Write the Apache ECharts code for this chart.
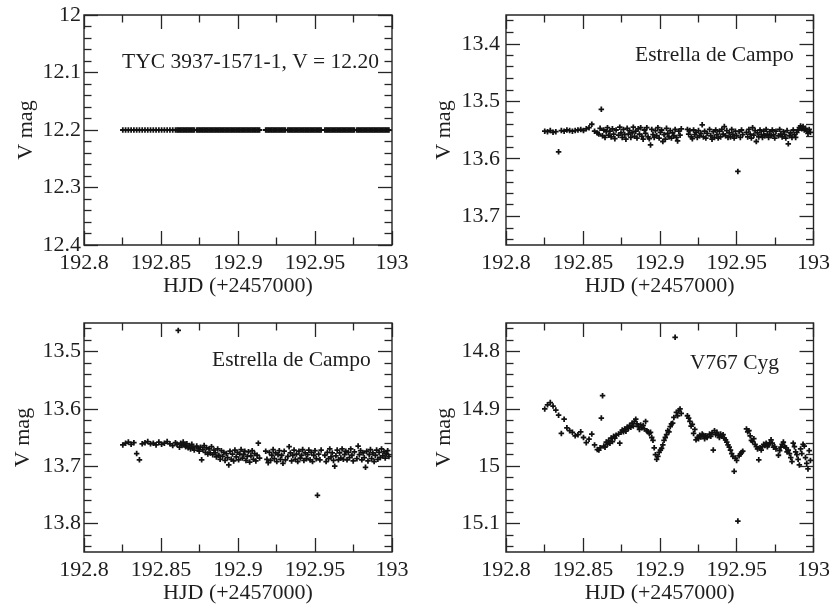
<!DOCTYPE html>
<html><head><meta charset="utf-8">
<script src="https://cdn.jsdelivr.net/npm/echarts@6/dist/echarts.min.js"></script>
<style>html,body{margin:0;padding:0;background:#fff}#c{width:833px;height:608px}</style>
</head><body><div id="c"></div>
<script>
// Observation times, HJD - 2457000 (shared by all four light curves)
const hjd = [
192.8252,192.8270,192.8288,192.8306,192.8324,192.8342,192.8360,192.8378,192.8396,192.8414,
192.8432,192.8450,192.8468,192.8486,192.8504,192.8522,192.8540,192.8558,192.8576,192.8594,
192.8604,192.8612,192.8620,192.8628,192.8636,192.8644,192.8652,192.8660,192.8668,192.8676,
192.8684,192.8692,192.8700,192.8708,192.8716,192.8732,192.8740,192.8748,192.8756,192.8764,
192.8772,192.8780,192.8788,192.8796,192.8804,192.8812,192.8820,192.8828,192.8836,192.8844,
192.8852,192.8860,192.8868,192.8876,192.8884,192.8892,192.8900,192.8908,192.8916,192.8924,
192.8932,192.8940,192.8948,192.8956,192.8964,192.8972,192.8980,192.8988,192.8996,192.9004,
192.9012,192.9020,192.9028,192.9036,192.9044,192.9052,192.9060,192.9068,192.9076,192.9084,
192.9092,192.9100,192.9108,192.9116,192.9124,192.9132,192.9140,192.9180,192.9188,192.9196,
192.9204,192.9212,192.9220,192.9228,192.9236,192.9244,192.9252,192.9260,192.9268,192.9276,
192.9284,192.9292,192.9300,192.9308,192.9324,192.9332,192.9340,192.9348,192.9356,192.9364,
192.9372,192.9380,192.9388,192.9396,192.9404,192.9412,192.9420,192.9428,192.9436,192.9444,
192.9452,192.9460,192.9468,192.9476,192.9484,192.9492,192.9500,192.9508,192.9516,192.9524,
192.9532,192.9540,192.9564,192.9572,192.9580,192.9588,192.9596,192.9604,192.9612,192.9620,
192.9628,192.9636,192.9644,192.9652,192.9660,192.9668,192.9676,192.9684,192.9692,192.9700,
192.9708,192.9716,192.9724,192.9732,192.9740,192.9748,192.9756,192.9772,192.9780,192.9788,
192.9796,192.9804,192.9812,192.9820,192.9828,192.9836,192.9844,192.9852,192.9860,192.9868,
192.9876,192.9884,192.9892,192.9900,192.9908,192.9916,192.9924,192.9932,192.9940,192.9948,
192.9956,192.9964,192.9972,192.9980
];
// TYC 3937-1571-1 (comparison star, V = 12.20)
const tycMag = [
12.2,12.2,12.2,12.2,12.2,12.2,12.2,12.2,12.2,12.2,
12.2,12.2,12.2,12.2,12.2,12.2,12.2,12.2,12.2,12.2,
12.2,12.2,12.2,12.2,12.2,12.2,12.2,12.2,12.2,12.2,
12.2,12.2,12.2,12.2,12.2,12.2,12.2,12.2,12.2,12.2,
12.2,12.2,12.2,12.2,12.2,12.2,12.2,12.2,12.2,12.2,
12.2,12.2,12.2,12.2,12.2,12.2,12.2,12.2,12.2,12.2,
12.2,12.2,12.2,12.2,12.2,12.2,12.2,12.2,12.2,12.2,
12.2,12.2,12.2,12.2,12.2,12.2,12.2,12.2,12.2,12.2,
12.2,12.2,12.2,12.2,12.2,12.2,12.2,12.2,12.2,12.2,
12.2,12.2,12.2,12.2,12.2,12.2,12.2,12.2,12.2,12.2,
12.2,12.2,12.2,12.2,12.2,12.2,12.2,12.2,12.2,12.2,
12.2,12.2,12.2,12.2,12.2,12.2,12.2,12.2,12.2,12.2,
12.2,12.2,12.2,12.2,12.2,12.2,12.2,12.2,12.2,12.2,
12.2,12.2,12.2,12.2,12.2,12.2,12.2,12.2,12.2,12.2,
12.2,12.2,12.2,12.2,12.2,12.2,12.2,12.2,12.2,12.2,
12.2,12.2,12.2,12.2,12.2,12.2,12.2,12.2,12.2,12.2,
12.2,12.2,12.2,12.2,12.2,12.2,12.2,12.2,12.2,12.2,
12.2,12.2,12.2,12.2,12.2,12.2,12.2,12.2,12.2,12.2,
12.2,12.2,12.2,12.2
];
// Estrella de Campo (top right)
const campo1Mag = [
13.552,13.553,13.551,13.554,13.553,13.588,13.551,13.552,13.550,13.551,
13.552,13.551,13.550,13.549,13.551,13.548,13.546,13.540,13.552,13.555,
13.557,13.547,13.514,13.560,13.550,13.563,13.553,13.546,13.559,13.552,
13.562,13.548,13.557,13.565,13.550,13.559,13.545,13.555,13.563,13.549,
13.558,13.566,13.547,13.557,13.551,13.563,13.555,13.545,13.561,13.552,
13.564,13.548,13.557,13.546,13.561,13.566,13.550,13.556,13.546,13.562,
13.565,13.576,13.549,13.558,13.563,13.551,13.560,13.546,13.564,13.554,
13.550,13.570,13.558,13.566,13.547,13.556,13.562,13.551,13.564,13.555,
13.560,13.549,13.563,13.569,13.552,13.559,13.548,13.549,13.557,13.551,
13.562,13.565,13.550,13.558,13.554,13.563,13.551,13.560,13.556,13.541,
13.562,13.552,13.564,13.556,13.549,13.560,13.566,13.553,13.563,13.550,
13.558,13.564,13.552,13.562,13.549,13.557,13.544,13.560,13.551,13.563,
13.555,13.562,13.549,13.558,13.564,13.552,13.560,13.622,13.553,13.563,
13.550,13.558,13.554,13.562,13.549,13.557,13.564,13.546,13.559,13.551,
13.570,13.555,13.562,13.550,13.558,13.563,13.552,13.560,13.549,13.557,
13.563,13.553,13.560,13.550,13.558,13.564,13.552,13.560,13.549,13.557,
13.562,13.553,13.558,13.564,13.551,13.574,13.560,13.555,13.563,13.550,
13.558,13.563,13.554,13.550,13.546,13.543,13.548,13.544,13.550,13.547,
13.552,13.556,13.549,13.554
];
// Estrella de Campo (bottom left)
const campo2Mag = [
13.663,13.660,13.658,13.662,13.659,13.678,13.689,13.661,13.659,13.657,
13.661,13.660,13.663,13.658,13.662,13.660,13.657,13.661,13.664,13.659,
13.662,13.463,13.667,13.660,13.664,13.658,13.663,13.666,13.661,13.668,
13.664,13.670,13.662,13.667,13.672,13.665,13.669,13.674,13.667,13.689,
13.671,13.664,13.676,13.668,13.679,13.670,13.677,13.666,13.680,13.672,
13.677,13.684,13.670,13.681,13.688,13.673,13.683,13.676,13.690,13.678,
13.685,13.698,13.674,13.688,13.679,13.691,13.672,13.684,13.676,13.689,
13.679,13.671,13.686,13.680,13.674,13.690,13.683,13.675,13.693,13.682,
13.673,13.688,13.678,13.691,13.681,13.660,13.686,13.674,13.688,13.694,
13.676,13.690,13.681,13.671,13.687,13.677,13.692,13.680,13.673,13.688,
13.681,13.695,13.674,13.689,13.683,13.666,13.677,13.691,13.681,13.672,
13.688,13.679,13.692,13.674,13.686,13.681,13.671,13.690,13.677,13.687,
13.680,13.672,13.689,13.676,13.692,13.681,13.673,13.687,13.751,13.679,
13.689,13.672,13.681,13.692,13.676,13.687,13.670,13.684,13.677,13.690,
13.700,13.682,13.672,13.689,13.677,13.686,13.670,13.688,13.680,13.674,
13.689,13.676,13.685,13.670,13.681,13.691,13.675,13.687,13.665,13.680,
13.673,13.689,13.677,13.685,13.702,13.674,13.691,13.680,13.671,13.687,
13.677,13.692,13.681,13.672,13.688,13.676,13.685,13.670,13.682,13.675,
13.686,13.678,13.673,13.683
];
// V767 Cyg (bottom right)
const v767Mag = [
14.900,14.893,14.889,14.895,14.902,14.911,14.943,14.918,14.933,14.938,
14.941,14.947,14.945,14.940,14.950,14.959,14.953,14.944,14.963,14.971,
14.972,14.968,14.916,14.877,14.965,14.967,14.958,14.962,14.955,14.960,
14.951,14.957,14.948,14.951,14.946,14.944,14.960,14.941,14.937,14.940,
14.935,14.939,14.932,14.934,14.929,14.932,14.925,14.930,14.922,14.918,
14.926,14.931,14.936,14.928,14.933,14.929,14.935,14.922,14.938,14.940,
14.943,14.941,14.950,14.955,14.968,14.980,14.988,14.983,14.976,14.972,
14.969,14.963,14.955,14.950,14.945,14.938,14.940,14.931,14.926,14.925,
14.915,14.775,14.906,14.912,14.903,14.900,14.908,14.912,14.916,14.922,
14.930,14.927,14.943,14.936,14.954,14.950,14.952,14.946,14.949,14.944,
14.946,14.952,14.947,14.950,14.944,14.948,14.942,14.972,14.938,14.945,
14.941,14.946,14.950,14.944,14.948,14.945,14.951,14.954,14.958,14.963,
14.967,14.972,14.978,14.983,15.009,14.986,14.990,15.096,14.982,14.979,
14.976,14.974,14.935,14.940,14.938,14.947,14.955,14.957,14.952,14.962,
14.966,14.970,14.989,14.968,14.972,14.966,14.962,14.964,14.960,14.966,
14.963,14.959,14.954,14.960,14.967,14.966,14.970,14.981,14.973,14.967,
14.962,14.958,14.965,14.968,14.975,14.972,14.978,14.985,14.992,14.960,
14.966,14.975,14.980,14.988,14.998,14.970,14.978,14.962,14.965,14.985,
14.995,15.005,14.973,14.990
];
const xTicks = [192.8, 192.85, 192.9, 192.95, 193];
const yTicksTyc = [12, 12.1, 12.2, 12.3, 12.4];
const yTicksCampo1 = [13.4, 13.5, 13.6, 13.7];
const yTicksCampo2 = [13.5, 13.6, 13.7, 13.8];
const yTicksV767 = [14.8, 14.9, 15, 15.1];
const panelLabels = ['TYC 3937-1571-1, V = 12.20', 'Estrella de Campo', 'Estrella de Campo', 'V767 Cyg'];
const xTitle = 'HJD (+2457000)';
const yTitle = 'V mag';

const serif = '"Liberation Serif", "DejaVu Serif", serif';
const ink = '#262626';
const txt = '#1e1e1e';
const plusSym = 'path://M3.4,0H6.6V3.4H10V6.6H6.6V10H3.4V6.6H0V3.4H3.4Z';

const panels = [
  {left:84, top:15, width:308, height:230, yMin:12, yMax:12.4, ticks:yTicksTyc, mag:tycMag, lm:3, ng:47, tx:[122,62]},
  {left:506, top:15, width:308, height:230, yMin:13.35, yMax:13.75, ticks:yTicksCampo1, mag:campo1Mag, lm:6, ng:51, tx:[635,55]},
  {left:84, top:323, width:308, height:229, yMin:13.45, yMax:13.85, ticks:yTicksCampo2, mag:campo2Mag, lm:3, ng:50, tx:[212,360]},
  {left:506, top:323, width:308, height:229, yMin:14.75, yMax:15.15, ticks:yTicksV767, mag:v767Mag, lm:6, ng:51, tx:[690,363]}
];

function fmt(v){ return String(parseFloat(Number(v).toFixed(3))); }
function minorVals(min, max, step, majors){
  const out = [];
  const n0 = Math.ceil(min/step - 1e-6), n1 = Math.floor(max/step + 1e-6);
  for (let n = n0; n <= n1; n++) {
    const v = +(n*step).toFixed(4);
    if (!majors.some(m => Math.abs(m - v) < 1e-6)) out.push(v);
  }
  return out;
}
const MAJ = 14, MIN = 7.5;

const grids = [], xAxes = [], yAxes = [], series = [], graphics = [];
panels.forEach((p, g) => {
  grids.push({left:p.left, top:p.top, width:p.width, height:p.height, show:true,
    borderColor:ink, borderWidth:1.4, backgroundColor:'transparent', containLabel:false});
  const xMinor = minorVals(192.8, 193, 0.025, xTicks);
  const yMinor = minorVals(p.yMin, p.yMax, 0.02, p.ticks);
  const xBase = {type:'value', gridIndex:g, min:192.8, max:193, axisLine:{show:false, onZero:false}, splitLine:{show:false}};
  const yBase = {type:'value', gridIndex:g, min:p.yMin, max:p.yMax, inverse:true, axisLine:{show:false, onZero:false}, splitLine:{show:false}};
  const tick = (vals, len) => ({show:true, inside:true, length:len, customValues:vals, lineStyle:{color:ink, width:1.3}});
  const xi = xAxes.length, yi = yAxes.length;
  xAxes.push(Object.assign({}, xBase, {position:'bottom', axisTick:tick(xTicks, MAJ),
    axisLabel:{show:true, customValues:xTicks, formatter:fmt, margin:7, color:txt, fontFamily:serif, fontSize:22},
    name:xTitle, nameLocation:'middle', nameGap:30, nameTextStyle:{color:txt, fontFamily:serif, fontSize:22}}));
  xAxes.push(Object.assign({}, xBase, {position:'bottom', axisTick:tick(xMinor, MIN), axisLabel:{show:false}}));
  xAxes.push(Object.assign({}, xBase, {position:'top', axisTick:tick(xTicks, MAJ), axisLabel:{show:false}}));
  xAxes.push(Object.assign({}, xBase, {position:'top', axisTick:tick(xMinor, MIN), axisLabel:{show:false}}));
  yAxes.push(Object.assign({}, yBase, {position:'left', axisTick:tick(p.ticks, MAJ),
    axisLabel:{show:true, customValues:p.ticks, formatter:fmt, margin:p.lm, color:txt, fontFamily:serif, fontSize:22},
    name:yTitle, nameLocation:'middle', nameGap:p.ng, nameTextStyle:{color:txt, fontFamily:serif, fontSize:22}}));
  yAxes.push(Object.assign({}, yBase, {position:'left', axisTick:tick(yMinor, MIN), axisLabel:{show:false}}));
  yAxes.push(Object.assign({}, yBase, {position:'right', axisTick:tick(p.ticks, MAJ), axisLabel:{show:false}}));
  yAxes.push(Object.assign({}, yBase, {position:'right', axisTick:tick(yMinor, MIN), axisLabel:{show:false}}));
  series.push({type:'scatter', xAxisIndex:xi, yAxisIndex:yi, symbol:plusSym, symbolSize:5.5,
    itemStyle:{color:'#111', opacity:1}, silent:true,
    data: hjd.map((t, i) => [t, p.mag[i]])});
  graphics.push({type:'text', x:p.tx[0], y:p.tx[1],
    style:{text:panelLabels[g], fill:txt, fontFamily:serif, fontSize:21.5, verticalAlign:'middle', align:'left'}});
});

const chart = echarts.init(document.getElementById('c'), null, {renderer:'canvas'});
chart.setOption({
  animation:false,
  backgroundColor:'#ffffff',
  grid:grids, xAxis:xAxes, yAxis:yAxes, series:series, graphic:graphics
});
</script></body></html>
